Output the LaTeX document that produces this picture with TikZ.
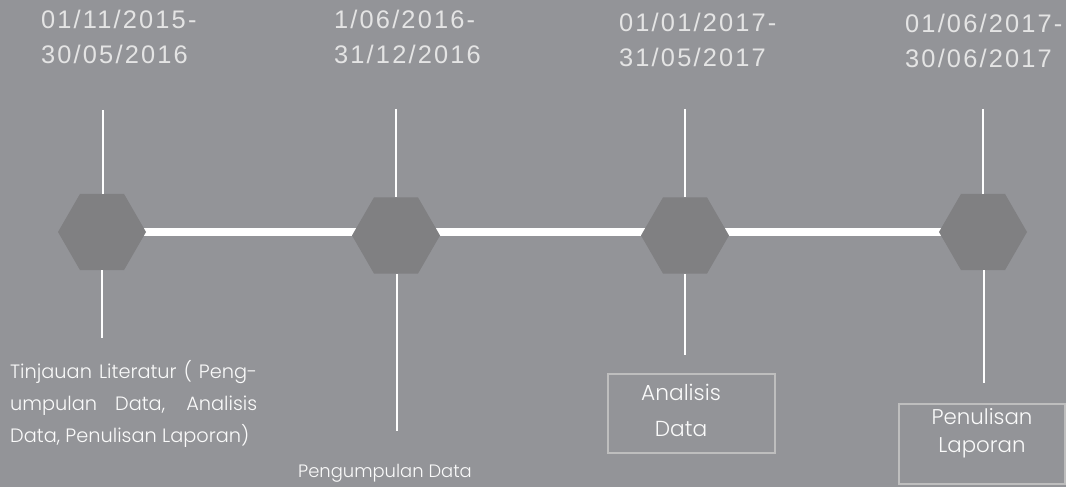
\documentclass[tikz,border=0pt]{standalone}
\usepackage{fontspec}
\usetikzlibrary{shapes.geometric}
\newfontfamily\datefont{Liberation Sans}[LetterSpace=8.5]
\newfontfamily\lblfont{Poppins Light}
\definecolor{bgc}{RGB}{147,148,152}
\definecolor{hexc}{RGB}{128,128,130}
\definecolor{datec}{RGB}{228,228,228}
\definecolor{lblc}{RGB}{250,250,250}
\definecolor{boxc}{RGB}{190,190,190}
\pgfdeclarelayer{background}
\pgfsetlayers{background,main}
\tikzset{
  hexnode/.style={regular polygon, regular polygon sides=6, minimum size=88bp, inner sep=0pt, fill=hexc, draw=none},
  datelbl/.style={anchor=base west, inner sep=0pt, align=left, text=datec, font=\datefont\fontsize{25.5}{35.5}\selectfont},
  lbl/.style={inner sep=0pt, text=lblc, font=\lblfont\fontsize{20}{32}\selectfont},
  tick/.style={draw=white, line width=2.7bp},
  bar/.style={draw=white, line width=8bp},
  boxnode/.style={draw=boxc, line width=2bp, inner sep=0pt, fill=none}
}
\begin{document}
\begin{tikzpicture}[x=1bp, y=-1bp]
\useasboundingbox (0,0) rectangle (1066,487);

% hexagons
\node[hexnode] (h1) at (102,232) {};
\node[hexnode] (h2) at (396,235.5) {};
\node[hexnode] (h3) at (685,235.5) {};
\node[hexnode] (h4) at (983,232) {};

% background and timeline bar
\begin{pgfonlayer}{background}
\fill[bgc] (0,0) rectangle (1066,487);
\draw[bar] (h1.center) -- (h4.center);
\end{pgfonlayer}

% tick end points
\coordinate (t1) at (103,110);
\coordinate (t2) at (396,109);
\coordinate (t3) at (685,109);
\coordinate (t4) at (983,109);
\coordinate (b1) at (102,338);
\coordinate (b2) at (397,431);
\coordinate (b3) at (685,355);
\coordinate (b4) at (984,383);

\draw[tick] (t1) -- (t1 |- h1.north);
\draw[tick] (t2) -- (t2 |- h2.north);
\draw[tick] (t3) -- (t3 |- h3.north);
\draw[tick] (t4) -- (t4 |- h4.north);
\draw[tick] (b1 |- h1.south) -- (b1);
\draw[tick] (b2 |- h2.south) -- (b2);
\draw[tick] (b3 |- h3.south) -- (b3);
\draw[tick] (b4 |- h4.south) -- (b4);

% dates (anchor = baseline of last line)
\node[datelbl] (d1) at (41,64) {01/11/2015-\\30/05/2016};
\node[datelbl] (d2) at (334,64) {1/06/2016-\\31/12/2016};
\node[datelbl] (d3) at (619,67) {01/01/2017-\\31/05/2017};
\node[datelbl] (d4) at (905,67.5) {01/06/2017-\\30/06/2017};

% labels
\node[lbl, anchor=base west, align=left, font=\lblfont\fontsize{19.4}{32}\selectfont] (l1) at (10,442)
  {\makebox[247bp][s]{Tinjauan Literatur ( Peng-}\\\makebox[247bp][s]{umpulan Data, Analisis}\\Data, Penulisan Laporan)};
\node[lbl, anchor=base, font=\lblfont\fontsize{18}{32}\selectfont] (l2) at (385,477.5) {Pengumpulan Data};

\node[boxnode, minimum width=167bp, minimum height=79bp] (r3) at (691.5,413.5) {};
\node[lbl, anchor=base, align=center, font=\lblfont\fontsize{21.8}{35.5}\selectfont] (l3) at (681,436) {Analisis\\Data};

\node[boxnode, minimum width=166bp, minimum height=80bp] (r4) at (982,444) {};
\node[lbl, anchor=base, align=center, font=\lblfont\fontsize{21.4}{28}\selectfont] (l4) at (982,452.5) {Penulisan\\Laporan};
\end{tikzpicture}
\end{document}
